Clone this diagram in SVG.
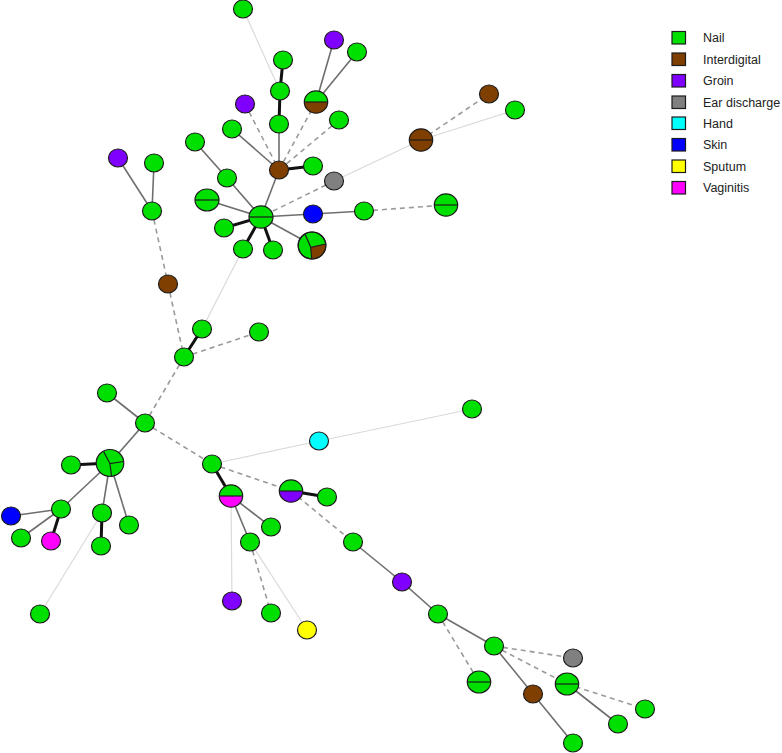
<svg xmlns="http://www.w3.org/2000/svg" width="782" height="753" viewBox="0 0 782 753">
<style>
.nd{stroke:#1c1c1c;stroke-width:1.2}
.dv{stroke:#1c1c1c;stroke-width:1.2;fill:none}
.G{fill:#00e000}.B{fill:#7f3f00}.P{fill:#8000ff}.Y{fill:#808080}.C{fill:#00ffff}.S{fill:#0000ff}.U{fill:#ffff00}.M{fill:#ff00ff}
.tk{stroke:#111;stroke-width:3;fill:none}
.so{stroke:#6e6e6e;stroke-width:1.6;fill:none}
.da{stroke:#9a9a9a;stroke-width:1.6;stroke-dasharray:5 4;fill:none}
.lt{stroke:#dadada;stroke-width:1.2;fill:none}
.lg{font-family:"Liberation Sans",Arial,sans-serif;font-size:12.5px;fill:#222}
</style>
<rect width="782" height="753" fill="#fff"/>
<g id="edges">
<line class="lt" x1="243" y1="9" x2="280" y2="91"/>
<line class="tk" x1="283" y1="60" x2="280" y2="91"/>
<line class="tk" x1="280" y1="91" x2="279" y2="124"/>
<line class="so" x1="279" y1="124" x2="279" y2="170"/>
<line class="so" x1="334" y1="40" x2="316" y2="102"/>
<line class="so" x1="357" y1="52" x2="316" y2="102"/>
<line class="da" x1="316" y1="102" x2="279" y2="170"/>
<line class="da" x1="245" y1="104" x2="279" y2="170"/>
<line class="da" x1="339" y1="120" x2="279" y2="170"/>
<line class="so" x1="232" y1="129" x2="279" y2="170"/>
<line class="tk" x1="313" y1="166" x2="279" y2="170"/>
<line class="so" x1="279" y1="170" x2="261" y2="217"/>
<line class="da" x1="334" y1="181" x2="261" y2="217"/>
<line class="lt" x1="334" y1="181" x2="421" y2="140"/>
<line class="lt" x1="421" y1="140" x2="515" y2="110"/>
<line class="da" x1="421" y1="140" x2="489" y2="94"/>
<line class="so" x1="195" y1="142" x2="227" y2="178"/>
<line class="so" x1="227" y1="178" x2="261" y2="217"/>
<line class="so" x1="207" y1="200" x2="261" y2="217"/>
<line class="tk" x1="224" y1="228" x2="261" y2="217"/>
<line class="tk" x1="243" y1="249" x2="261" y2="217"/>
<line class="tk" x1="273" y1="250" x2="261" y2="217"/>
<line class="so" x1="312" y1="245" x2="261" y2="217"/>
<line class="so" x1="313" y1="214" x2="261" y2="217"/>
<line class="so" x1="313" y1="214" x2="364" y2="211"/>
<line class="da" x1="364" y1="211" x2="446" y2="205"/>
<line class="so" x1="118" y1="158" x2="152" y2="211"/>
<line class="so" x1="154" y1="163" x2="152" y2="211"/>
<line class="da" x1="152" y1="211" x2="168" y2="284"/>
<line class="da" x1="168" y1="284" x2="184" y2="357"/>
<line class="lt" x1="202" y1="329" x2="243" y2="249"/>
<line class="tk" x1="202" y1="329" x2="184" y2="357"/>
<line class="da" x1="184" y1="357" x2="259" y2="332"/>
<line class="da" x1="184" y1="357" x2="145" y2="423"/>
<line class="so" x1="145" y1="423" x2="107" y2="393"/>
<line class="so" x1="145" y1="423" x2="110" y2="463"/>
<line class="da" x1="145" y1="423" x2="212" y2="464"/>
<line class="tk" x1="110" y1="463" x2="71" y2="465"/>
<line class="so" x1="110" y1="463" x2="61" y2="509"/>
<line class="so" x1="110" y1="463" x2="102" y2="513"/>
<line class="so" x1="110" y1="463" x2="129" y2="525"/>
<line class="so" x1="61" y1="509" x2="11" y2="516"/>
<line class="so" x1="61" y1="509" x2="21" y2="538"/>
<line class="tk" x1="61" y1="509" x2="51" y2="541"/>
<line class="tk" x1="102" y1="513" x2="101" y2="546"/>
<line class="lt" x1="102" y1="513" x2="40" y2="614"/>
<line class="lt" x1="212" y1="464" x2="319" y2="441"/>
<line class="lt" x1="319" y1="441" x2="472" y2="409"/>
<line class="tk" x1="212" y1="464" x2="231" y2="496"/>
<line class="da" x1="212" y1="464" x2="291" y2="491"/>
<line class="so" x1="231" y1="496" x2="271" y2="527"/>
<line class="so" x1="231" y1="496" x2="250" y2="542"/>
<line class="lt" x1="231" y1="496" x2="232" y2="601"/>
<line class="tk" x1="291" y1="491" x2="327" y2="497"/>
<line class="da" x1="291" y1="491" x2="353" y2="542"/>
<line class="da" x1="250" y1="542" x2="271" y2="613"/>
<line class="lt" x1="250" y1="542" x2="307" y2="630"/>
<line class="so" x1="353" y1="542" x2="402" y2="582"/>
<line class="so" x1="402" y1="582" x2="438" y2="614"/>
<line class="so" x1="438" y1="614" x2="494" y2="646"/>
<line class="da" x1="438" y1="614" x2="479" y2="682"/>
<line class="da" x1="494" y1="646" x2="573" y2="658"/>
<line class="da" x1="494" y1="646" x2="567" y2="684"/>
<line class="so" x1="494" y1="646" x2="533" y2="694"/>
<line class="da" x1="567" y1="684" x2="645" y2="709"/>
<line class="so" x1="567" y1="684" x2="618" y2="724"/>
<line class="so" x1="533" y1="694" x2="573" y2="743"/>
</g>
<g id="n1"><ellipse class="nd G" cx="243" cy="9" rx="9.5" ry="9"/></g>
<g id="n2"><ellipse class="nd G" cx="283" cy="60" rx="9.5" ry="9"/></g>
<g id="n3"><ellipse class="nd P" cx="334" cy="40" rx="9.5" ry="9"/></g>
<g id="n4"><ellipse class="nd G" cx="357" cy="52" rx="9.5" ry="9"/></g>
<g id="n5" transform="translate(316,102)"><path class="G" d="M-11.7,0A11.7,11.2 0 0 1 11.7,0Z"/><path class="B" d="M-11.7,0A11.7,11.2 0 0 0 11.7,0Z"/><ellipse class="dv" rx="11.7" ry="11.2"/><line class="dv" x1="-11.7" y1="0" x2="11.7" y2="0"/></g>
<g id="n6"><ellipse class="nd P" cx="245" cy="104" rx="9.5" ry="9"/></g>
<g id="n7"><ellipse class="nd G" cx="280" cy="91" rx="9.5" ry="9"/></g>
<g id="n8"><ellipse class="nd G" cx="279" cy="124" rx="9.5" ry="9"/></g>
<g id="n9"><ellipse class="nd G" cx="232" cy="129" rx="9.5" ry="9"/></g>
<g id="n10"><ellipse class="nd G" cx="339" cy="120" rx="9.5" ry="9"/></g>
<g id="n11"><ellipse class="nd B" cx="279" cy="170" rx="9.5" ry="9"/></g>
<g id="n12"><ellipse class="nd G" cx="313" cy="166" rx="9.5" ry="9"/></g>
<g id="n13"><ellipse class="nd Y" cx="334" cy="181" rx="9.5" ry="9"/></g>
<g id="n14"><ellipse class="nd G" cx="195" cy="142" rx="9.5" ry="9"/></g>
<g id="n15"><ellipse class="nd G" cx="227" cy="178" rx="9.5" ry="9"/></g>
<g id="n16" transform="translate(207,200)"><ellipse class="nd G" rx="12" ry="11"/><line class="dv" x1="-12" y1="0" x2="12" y2="0"/></g>
<g id="n17" transform="translate(261,217)"><ellipse class="nd G" rx="12" ry="11.2"/><line class="dv" x1="-12" y1="0" x2="12" y2="0"/></g>
<g id="n18"><ellipse class="nd G" cx="224" cy="228" rx="9.5" ry="9"/></g>
<g id="n19"><ellipse class="nd G" cx="243" cy="249" rx="9.5" ry="9"/></g>
<g id="n20"><ellipse class="nd G" cx="273" cy="250" rx="9.5" ry="9"/></g>
<g id="n21" transform="translate(312,245.5)"><ellipse class="nd G" rx="13.8" ry="13.5"/><path class="B" d="M-1.3,1.8L13.7,-1.5A13.8,13.5 0 0 1 -0.3,13.5Z"/><ellipse class="dv" rx="13.8" ry="13.5"/><path class="dv" d="M-7,-11.6L-1.3,1.8L13.7,-1.5M-1.3,1.8L-0.3,13.5"/></g>
<g id="n22"><ellipse class="nd S" cx="313" cy="214" rx="9.5" ry="9"/></g>
<g id="n23"><ellipse class="nd G" cx="364" cy="211" rx="9.5" ry="9"/></g>
<g id="n24" transform="translate(446,205)"><ellipse class="nd G" rx="11.7" ry="11.2"/><line class="dv" x1="-11.7" y1="0" x2="11.7" y2="0"/></g>
<g id="n25" transform="translate(421,140)"><ellipse class="nd B" rx="11.7" ry="11.2"/><line class="dv" x1="-11.7" y1="0" x2="11.7" y2="0"/></g>
<g id="n26"><ellipse class="nd B" cx="489" cy="94" rx="9.5" ry="9"/></g>
<g id="n27"><ellipse class="nd G" cx="515" cy="110" rx="9.5" ry="9"/></g>
<g id="n28"><ellipse class="nd P" cx="118" cy="158" rx="9.5" ry="9"/></g>
<g id="n29"><ellipse class="nd G" cx="154" cy="163" rx="9.5" ry="9"/></g>
<g id="n30"><ellipse class="nd G" cx="152" cy="211" rx="9.5" ry="9"/></g>
<g id="n31"><ellipse class="nd B" cx="168" cy="284" rx="9.5" ry="9"/></g>
<g id="n32"><ellipse class="nd G" cx="202" cy="329" rx="9.5" ry="9"/></g>
<g id="n33"><ellipse class="nd G" cx="184" cy="357" rx="9.5" ry="9"/></g>
<g id="n34"><ellipse class="nd G" cx="259" cy="332" rx="9.5" ry="9"/></g>
<g id="n35"><ellipse class="nd G" cx="145" cy="423" rx="9.5" ry="9"/></g>
<g id="n36"><ellipse class="nd G" cx="107" cy="393" rx="9.5" ry="9"/></g>
<g id="n37" transform="translate(110,463)"><ellipse class="nd G" rx="13.8" ry="13.5"/><path class="dv" d="M-6.5,-11.8L0,0.7L13.7,-1.5M0,0.7L1.5,13.4"/></g>
<g id="n38"><ellipse class="nd G" cx="71" cy="465" rx="9.5" ry="9"/></g>
<g id="n39"><ellipse class="nd G" cx="61" cy="509" rx="9.5" ry="9"/></g>
<g id="n40"><ellipse class="nd S" cx="11" cy="516" rx="9.5" ry="9"/></g>
<g id="n41"><ellipse class="nd G" cx="21" cy="538" rx="9.5" ry="9"/></g>
<g id="n42"><ellipse class="nd M" cx="51" cy="541" rx="9.5" ry="9"/></g>
<g id="n43"><ellipse class="nd G" cx="102" cy="513" rx="9.5" ry="9"/></g>
<g id="n44"><ellipse class="nd G" cx="101" cy="546" rx="9.5" ry="9"/></g>
<g id="n45"><ellipse class="nd G" cx="129" cy="525" rx="9.5" ry="9"/></g>
<g id="n46"><ellipse class="nd G" cx="40" cy="614" rx="9.5" ry="9"/></g>
<g id="n47"><ellipse class="nd G" cx="212" cy="464" rx="9.5" ry="9"/></g>
<g id="n48"><ellipse class="nd C" cx="319" cy="441" rx="9.5" ry="9"/></g>
<g id="n49"><ellipse class="nd G" cx="472" cy="409" rx="9.5" ry="9"/></g>
<g id="n50" transform="translate(231,496)"><path class="G" d="M-11.7,0A11.7,11.2 0 0 1 11.7,0Z"/><path class="M" d="M-11.7,0A11.7,11.2 0 0 0 11.7,0Z"/><ellipse class="dv" rx="11.7" ry="11.2"/><line class="dv" x1="-11.7" y1="0" x2="11.7" y2="0"/></g>
<g id="n51" transform="translate(291,491)"><path class="G" d="M-11.7,0A11.7,11.2 0 0 1 11.7,0Z"/><path class="P" d="M-11.7,0A11.7,11.2 0 0 0 11.7,0Z"/><ellipse class="dv" rx="11.7" ry="11.2"/><line class="dv" x1="-11.7" y1="0" x2="11.7" y2="0"/></g>
<g id="n52"><ellipse class="nd G" cx="327" cy="497" rx="9.5" ry="9"/></g>
<g id="n53"><ellipse class="nd G" cx="271" cy="527" rx="9.5" ry="9"/></g>
<g id="n54"><ellipse class="nd G" cx="250" cy="542" rx="9.5" ry="9"/></g>
<g id="n55"><ellipse class="nd G" cx="353" cy="542" rx="9.5" ry="9"/></g>
<g id="n56"><ellipse class="nd P" cx="232" cy="601" rx="9.5" ry="9"/></g>
<g id="n57"><ellipse class="nd G" cx="271" cy="613" rx="9.5" ry="9"/></g>
<g id="n58"><ellipse class="nd U" cx="307" cy="630" rx="9.5" ry="9"/></g>
<g id="n59"><ellipse class="nd P" cx="402" cy="582" rx="9.5" ry="9"/></g>
<g id="n60"><ellipse class="nd G" cx="438" cy="614" rx="9.5" ry="9"/></g>
<g id="n61"><ellipse class="nd G" cx="494" cy="646" rx="9.5" ry="9"/></g>
<g id="n62" transform="translate(479,682)"><ellipse class="nd G" rx="11.7" ry="11"/><line class="dv" x1="-11.7" y1="0" x2="11.7" y2="0"/></g>
<g id="n63"><ellipse class="nd Y" cx="573" cy="658" rx="9.5" ry="9"/></g>
<g id="n64" transform="translate(567,684)"><ellipse class="nd G" rx="11.7" ry="11"/><line class="dv" x1="-11.7" y1="0" x2="11.7" y2="0"/></g>
<g id="n65"><ellipse class="nd B" cx="533" cy="694" rx="9.5" ry="9"/></g>
<g id="n66"><ellipse class="nd G" cx="645" cy="709" rx="9.5" ry="9"/></g>
<g id="n67"><ellipse class="nd G" cx="618" cy="724" rx="9.5" ry="9"/></g>
<g id="n68"><ellipse class="nd G" cx="573" cy="743" rx="9.5" ry="9"/></g>
<g id="legend">
<rect class="nd G" x="672" y="31.5" width="13.5" height="12.5"/><text class="lg" x="703" y="42">Nail</text>
<rect class="nd B" x="672" y="53" width="13.5" height="12.5"/><text class="lg" x="703" y="63.5">Interdigital</text>
<rect class="nd P" x="672" y="74.5" width="13.5" height="12.5"/><text class="lg" x="703" y="85">Groin</text>
<rect class="nd Y" x="672" y="96" width="13.5" height="12.5"/><text class="lg" x="703" y="106.5">Ear discharge</text>
<rect class="nd C" x="672" y="117" width="13.5" height="12.5"/><text class="lg" x="703" y="127.5">Hand</text>
<rect class="nd S" x="672" y="138.5" width="13.5" height="12.5"/><text class="lg" x="703" y="149">Skin</text>
<rect class="nd U" x="672" y="160" width="13.5" height="12.5"/><text class="lg" x="703" y="170.5">Sputum</text>
<rect class="nd M" x="672" y="181.5" width="13.5" height="12.5"/><text class="lg" x="703" y="192">Vaginitis</text>
</g>
</svg>
